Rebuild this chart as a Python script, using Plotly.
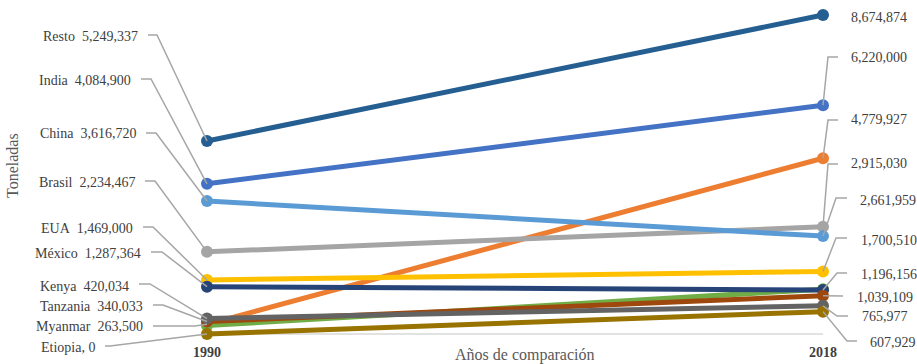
import plotly.graph_objects as go

# ---- data -------------------------------------------------------------
years = ["1990", "2018"]
countries = ["India", "Myanmar", "Brasil", "EUA", "China", "Otro",
             "México", "Tanzania", "Kenya", "Etiopia", "Resto"]
tons_1990 = [4084900, 263500, 2234467, 1469000, 3616720, 230000,
             1287364, 340033, 420034, 0, 5249337]
tons_2018 = [6220000, 4779927, 2915030, 1700510, 2661959, 1220000,
             1196156, 1039109, 765977, 607929, 8674874]
colors = ["#4472C4", "#ED7D31", "#A5A5A5", "#FFC000", "#5B9BD5", "#70AD47",
          "#264478", "#9E480E", "#636363", "#997300", "#255E91"]

# ---- layout constants (pixels) ----------------------------------------
W, H = 917, 364
X0_PX, X1_PX = 207, 823          # where the two years sit
ZERO_PX = 334                    # baseline of the value axis
PX_PER_TON = 36.77e-6

span = X1_PX - X0_PX
x_range = [-X0_PX / span, (W - X0_PX) / span]
y_range = [-(H - ZERO_PX) / PX_PER_TON, ZERO_PX / PX_PER_TON]


def py(v):
    return ZERO_PX - v * PX_PER_TON


# left labels: (text right edge, text y, leader y, elbow x)
left_pos = [
    (133, 80, 79, 151), (145, 326, 326, 195), (137, 182, 181, 155),
    (135, 228, 227, 153), (138, 133, 133, 156), None,
    (143, 253, 252, 162), (145, 306, 305, 163), (131, 286, 284, 150),
    (97, 347, 346, 110), (140, 37, 35, 157),
]
# right labels: (text left edge, text y, leader y, leader start x, elbow x)
right_pos = [
    (849, 58, 57, 838, 828), (849, 120, 120, 838, 828), (849, 164, 164, 838, 828),
    (859, 240, 238, 847, 836), (858, 200, 198, 847, 836), None,
    (859, 274, 273, 847, 837), (855, 297, 296, 843, 843), (860, 316, 316, 848, 837),
    (868, 342, 341, 857, 847), (849, 17, None, None, None),
]

FONT = "Liberation Serif, Times New Roman, serif"
TXT = "#404040"
LEADER = "#A6A6A6"

fig = go.Figure()

for name, a, b, c in zip(countries, tons_1990, tons_2018, colors):
    fig.add_trace(go.Scatter(
        x=[0, 1], y=[a, b], mode="lines+markers", name=name,
        line=dict(color=c, width=5),
        marker=dict(color=c, size=12),
        cliponaxis=False, showlegend=False,
    ))

annotations = []
# baseline of the value axis between the two years
shapes = [dict(type="line", xref="x", yref="y", x0=0, x1=1, y0=0, y1=0,
               line=dict(color="#D9D9D9", width=1.5), layer="below")]


def fmt(v):
    return f"{v:,}"


def leader(xa, v, points):
    """Polyline (pixel offsets) anchored at a data point."""
    dx, dy = (X0_PX if xa == 0 else X1_PX), py(v)
    segs = " ".join(f"L{px - dx:.1f},{dy - pyy:.1f}" for px, pyy in points)
    return dict(type="path", xref="x", yref="y", xsizemode="pixel",
                ysizemode="pixel", xanchor=xa, yanchor=v,
                path=f"M0,0 {segs}",
                line=dict(color=LEADER, width=1.5), layer="above")


for i, name in enumerate(countries):
    a, b = tons_1990[i], tons_2018[i]
    lp = left_pos[i]
    if lp is not None:
        right, ty, ly, ex = lp
        sep = ", " if name == "Etiopia" else "\u00a0\u00a0"
        annotations.append(dict(
            x=right / W, y=1 - ty / H, xref="paper", yref="paper",
            xanchor="right", yanchor="middle", showarrow=False,
            text=f"{name}{sep}{fmt(a)}", font=dict(size=14, color=TXT, family=FONT)))
        shapes.append(leader(0, a, [(ex, ly), (right + 8, ly)]))
    rp = right_pos[i]
    if rp is not None:
        left, ty, ly, sx, ex = rp
        annotations.append(dict(
            x=left / W, y=1 - ty / H, xref="paper", yref="paper",
            xanchor="left", yanchor="middle", showarrow=False,
            text=fmt(b), font=dict(size=14, color=TXT, family=FONT)))
        if ly is not None:
            shapes.append(leader(1, b, [(ex, ly), (sx, ly)]))

# year labels under each end
for xi, yr in enumerate(years):
    annotations.append(dict(
        x=xi, y=1 - 352 / H, xref="x", yref="paper", xanchor="center",
        yanchor="middle", showarrow=False, text=f"<b>{yr}</b>",
        font=dict(size=14, color=TXT, family=FONT)))

# axis titles
annotations.append(dict(
    x=525 / W, y=1 - 355 / H, xref="paper", yref="paper", xanchor="center",
    yanchor="middle", showarrow=False, text="Años de comparación",
    font=dict(size=16, color="#595959", family=FONT)))
annotations.append(dict(
    x=13 / W, y=1 - 166 / H, xref="paper", yref="paper", xanchor="center",
    yanchor="middle", showarrow=False, text="Toneladas", textangle=-90,
    font=dict(size=16, color="#595959", family=FONT)))

fig.update_layout(
    width=W, height=H,
    margin=dict(l=0, r=0, t=0, b=0),
    paper_bgcolor="white", plot_bgcolor="white",
    xaxis=dict(range=x_range, visible=False, fixedrange=True),
    yaxis=dict(range=y_range, visible=False, fixedrange=True),
    annotations=annotations, shapes=shapes,
)

fig.write_html("out.html")
